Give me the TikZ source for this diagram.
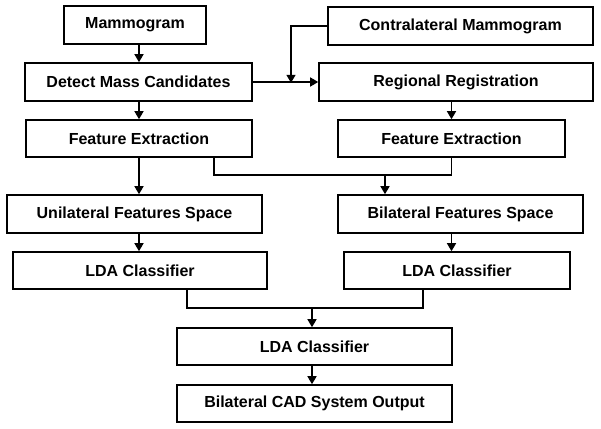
\documentclass[tikz,border=0pt]{standalone}
\usepackage{fontspec}
\setmainfont{Liberation Sans}
\usetikzlibrary{arrows.meta,calc}
\begin{document}
\begin{tikzpicture}[x=1pt,y=-1pt,
  box/.style={draw=black,line width=1.6pt,fill=white,inner sep=0pt,
    font=\fontsize{16}{18}\selectfont\bfseries},
  conn/.style={line width=1.5pt,draw=black},
  arr/.style={conn,-{Triangle[length=8pt,width=9pt]}}]
\useasboundingbox[fill=white] (0,0) rectangle (601,428);
\node[box,minimum width=142pt,minimum height=38pt] (mam) at (135,25) {Mammogram};
\node[box,minimum width=265pt,minimum height=38pt] (contra) at (460.5,26) {Contralateral Mammogram};
\node[box,minimum width=227pt,minimum height=38pt] (detect) at (138.5,82) {Detect Mass Candidates};
\node[box,minimum width=274pt,minimum height=38pt] (reg) at (456,82) {Regional Registration};
\node[box,minimum width=226pt,minimum height=37pt] (fel) at (139,138.5) {Feature Extraction};
\node[box,minimum width=227pt,minimum height=37pt] (fer) at (451.5,138.5) {Feature Extraction};
\node[box,minimum width=255pt,minimum height=38pt] (uni) at (134.5,214) {Unilateral Features Space};
\node[box,minimum width=245pt,minimum height=38pt] (bil) at (460.5,214) {Bilateral Features Space};
\node[box,minimum width=254pt,minimum height=37pt] (ldal) at (140,270.5) {LDA Classifier};
\node[box,minimum width=226pt,minimum height=37pt] (ldar) at (457,270.5) {LDA Classifier};
\node[box,minimum width=275pt,minimum height=37pt] (lda) at (314.5,346.5) {LDA Classifier};
\node[box,minimum width=275pt,minimum height=37pt] (out) at (314.5,403.5) {Bilateral CAD System Output};
\coordinate (cj) at (291,82);
\coordinate (j1) at (214,175);
\coordinate (j2) at (385,175);
\coordinate (k1) at (187,308);
\coordinate (k2) at (423,308);
\coordinate (k3) at (312,308);
% arrows
\draw[arr] (mam.south -| fel.north) -- (detect.north -| fel.north);
\draw[arr] (detect.south -| fel.north) -- (fel.north);
\draw[arr] (detect.east) -- (reg.west);
\draw[arr] (contra.west) -| ([yshift=-0.8pt]cj);
\draw[arr] (reg.south -| fer.north) -- (fer.north);
\draw[arr] (fel.south) -- (fel.south |- uni.north);
\draw[conn] (fer.south) |- (j1) -- (j1 |- fel.south);
\draw[arr] (j2) -- (j2 |- bil.north);
\draw[arr] (uni.south -| fel.south) -- (ldal.north -| fel.south);
\draw[arr] (bil.south -| fer.south) -- (ldar.north -| fer.south);
\draw[conn] (k1 |- ldal.south) |- (k2) -- (k2 |- ldar.south);
\draw[arr] (k3) -- (k3 |- lda.north);
\draw[arr] (lda.south -| k3) -- (out.north -| k3);
\end{tikzpicture}
\end{document}
